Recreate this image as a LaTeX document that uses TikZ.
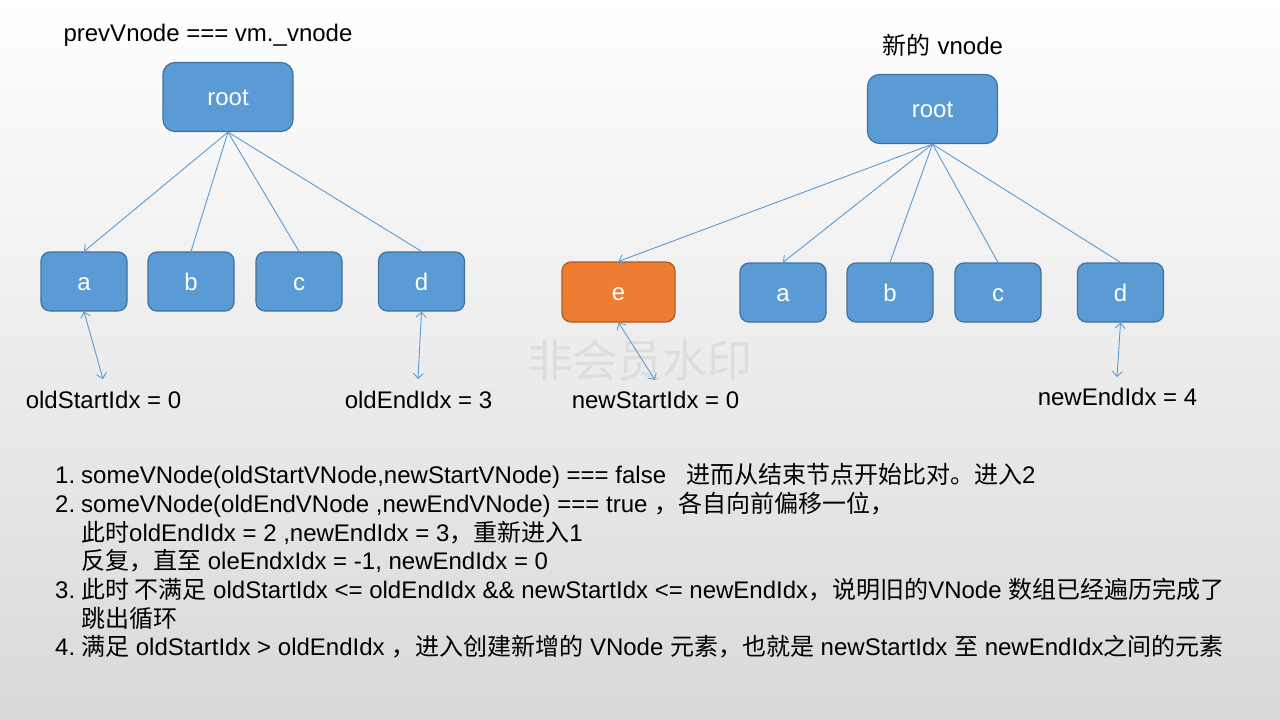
\documentclass[tikz,border=0pt]{standalone}
\usepackage{fontspec}
\setmainfont{Liberation Sans}
\newfontfamily\cjkfont{Noto Sans CJK SC}
\newcommand\zhf[1]{{\cjkfont #1}}
\usetikzlibrary{arrows.meta}
\definecolor{boxblue}{HTML}{5B9BD5}
\definecolor{boxedge}{HTML}{41719C}
\definecolor{boxorange}{HTML}{ED7D31}
\definecolor{orangeedge}{HTML}{AE5A21}
\definecolor{linkblue}{HTML}{5B9BD5}
\definecolor{bggray}{HTML}{D9D9D9}
\definecolor{wmgray}{HTML}{DDDDDD}
\begin{document}
\begin{tikzpicture}[x=1pt,y=-1pt,
  vbox/.style={rectangle, rounded corners=9pt, draw=boxedge, line width=1.2pt,
    fill=boxblue, text=white, font=\fontsize{24}{28}\selectfont,
    text height=17.2pt, text depth=0pt, inner sep=0pt,
    minimum width=86pt, minimum height=59pt},
  rootbox/.style={vbox, minimum width=130pt, minimum height=69pt, rounded corners=12pt},
  newbox/.style={vbox, fill=boxorange, draw=orangeedge, minimum width=113pt, minimum height=60pt},
  link/.style={draw=linkblue, line width=0.9pt},
  arr/.style={link, -{Straight Barb[length=5pt,width=10pt]}},
  darr/.style={link, {Straight Barb[length=5pt,width=10pt]}-{Straight Barb[length=5pt,width=10pt]}},
  lbl/.style={font=\fontsize{24}{28}\selectfont, anchor=base, inner sep=0pt},
  item/.style={lbl, anchor=base west}]
\useasboundingbox (0,0) rectangle (1280,720);
\shade[top color=white, bottom color=bggray] (0,0) rectangle (1280,720);

% watermark
\node[font=\cjkfont\fontsize{45}{45}\selectfont, text=wmgray] (wm) at (640,360) {非会员水印};

% left tree
\node[lbl] (ltitle) at (208,41) {prevVnode === vm.\_vnode};
\node[rootbox] (lroot) at (228,97) {root};
\node[vbox] (la) at (84,281.5) {a};
\node[vbox] (lb) at (191,281.5) {b};
\node[vbox] (lc) at (299,281.5) {c};
\node[vbox] (ld) at (421.5,281.5) {d};
\draw[arr] (lroot.south) -- (la.north);
\draw[link] (lroot.south) -- (lb.north);
\draw[link] (lroot.south) -- (lc.north);
\draw[link] (lroot.south) -- (ld.north);
\coordinate (laend) at (103,379);
\coordinate (ldend) at (418,379);
\draw[darr] (la.south) -- (laend);
\draw[darr] (ld.south) -- (ldend);
\node[lbl] (lstart) at (103.5,408.5) {oldStartIdx = 0};
\node[lbl] (lend) at (418.5,408.5) {oldEndIdx = 3};

% right tree
\node[lbl] (rtitle) at (943,54) {\zhf{新的} vnode};
\node[rootbox] (rroot) at (932.5,109) {root};
\node[newbox] (re) at (618.5,292) {e};
\node[vbox] (ra) at (783,292.5) {a};
\node[vbox] (rb) at (890,292.5) {b};
\node[vbox] (rc) at (998,292.5) {c};
\node[vbox] (rd) at (1120.5,292.5) {d};
\draw[arr] (rroot.south) -- (re.north);
\draw[arr] (rroot.south) -- (ra.north);
\draw[link] (rroot.south) -- (rb.north);
\draw[link] (rroot.south) -- (rc.north);
\draw[link] (rroot.south) -- (rd.north);
\coordinate (reend) at (655,380);
\coordinate (rdend) at (1117,377);
\draw[darr] (re.south) -- (reend);
\draw[darr] (rd.south) -- (rdend);
\node[lbl] (rstart) at (655.5,408.5) {newStartIdx = 0};
\node[lbl] (rend) at (1117.5,405.5) {newEndIdx = 4};

% list
\node[item] (n1) at (55,483.5) {1.};
\node[item] (t1) at (81,483.5) {someVNode(oldStartVNode,newStartVNode) === false~~~\zhf{进而从结束节点开始比对。进入}2};
\node[item] (n2) at (55,512.5) {2.};
\node[item] (t2) at (81,512.5) {someVNode(oldEndVNode ,newEndVNode) === true \zhf{，各自向前偏移一位，}};
\node[item] (t2b) at (81,541) {\zhf{此时}oldEndIdx = 2 ,newEndIdx = 3\zhf{，重新进入}1};
\node[item] (t2c) at (81,569.5) {\zhf{反复，直至} oleEndxIdx = -1, newEndIdx = 0};
\node[item] (n3) at (55,598.5) {3.};
\node[item] (t3) at (81,598.5) {\zhf{此时 不满足} oldStartIdx <= oldEndIdx \&\& newStartIdx <= newEndIdx\zhf{，说明旧的}VNode \zhf{数组已经遍历完成了}};
\node[item] (t3b) at (81,627) {\zhf{跳出循环}};
\node[item] (n4) at (55,655.5) {4.};
\node[item] (t4) at (81,655.5) {\zhf{满足} oldStartIdx > oldEndIdx \zhf{，进入创建新增的} VNode \zhf{元素，也就是} newStartIdx \zhf{至} newEndIdx\zhf{之间的元素}};
\end{tikzpicture}
\end{document}
